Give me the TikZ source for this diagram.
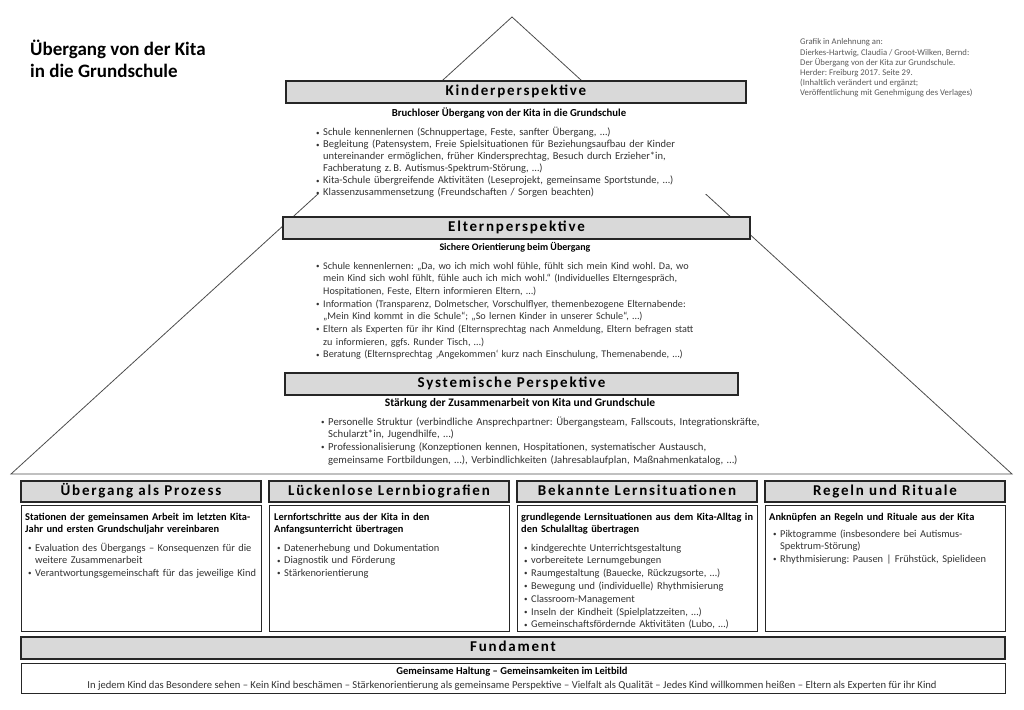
\documentclass[tikz,border=0pt]{standalone}
\usepackage{fontspec}
\setmainfont{Carlito}
\newfontfamily\headfam[LetterSpace=12]{Carlito}
\newcommand{\fsz}[2]{\fontsize{#1}{#2}\selectfont}
\newcommand{\blt}{\par\hangindent=7pt\hangafter=1\noindent\strut\makebox[7pt][l]{\raisebox{0.8pt}{\fontsize{7}{7}\selectfont\textbullet}}}
\frenchspacing

\begin{document}
\begin{tikzpicture}[x=1pt, y=-1pt,
  roof/.style={draw=black!70, line width=0.8pt},
  head/.style={draw=black!85, line width=1.1pt, fill=black!15, inner sep=0pt,
    minimum height=22pt, text height=10.5pt, text depth=3pt,
    font=\headfam\bfseries\fsz{15}{17}},
  box/.style={draw=black!85, line width=0.8pt, fill=white},
  subline/.style={inner sep=0pt, font=\fsz{10}{12}\bfseries},
  bullets/.style={anchor=north west, inner sep=0pt, text width=#1, align=left,
    font=\fsz{10.4}{12.8}, text=black!80},
  colsub/.style={anchor=north west, inner sep=0pt, text width=238pt, align=left,
    font=\fsz{10.4}{12.8}\bfseries}]
  \useasboundingbox (0,0) rectangle (1024,709);

  % Titel und Quelle
  \node[anchor=north west, inner sep=0pt, align=left,
    font=\fsz{19}{22}\bfseries] (title) at (30,39.6)
    {\strut Übergang von der Kita\\in die Grundschule};
  \node[anchor=north west, inner sep=0pt, align=left, text=black!65,
    font=\fsz{8.7}{10.2}] (source) at (800,37.5)
    {\strut Grafik in Anlehnung an:\\
     Dierkes-Hartwig, Claudia / Groot-Wilken, Bernd:\\
     Der Übergang von der Kita zur Grundschule.\\
     Herder: Freiburg 2017. Seite 29.\\
     (Inhaltlich verändert und ergänzt;\\
     Veröffentlichung mit Genehmigung des Verlages)};

  % Dach
  \draw[roof] (512,17) -- (11,474) -- (1012,474) -- cycle;

  % Kinderperspektive
  \fill[white] (286,104) rectangle (746,194);
  \node[head, minimum width=460pt] (kinderhead) at (516,92) {Kinderperspektive};
  \node[subline, font=\fsz{10.7}{12}\bfseries] (kindersub) at (509,113)
    {Bruchloser Übergang von der Kita in die Grundschule};
  \node[bullets=420pt, font=\fsz{10.5}{12}] (kinderlist) at (316,123.6) {%
    \blt Schule kennenlernen (Schnuppertage, Feste, sanfter Übergang, \dots)
    \blt Begleitung (Patensystem, Freie Spielsituationen für Beziehungsaufbau der Kinder\newline
      untereinander ermöglichen, früher Kindersprechtag, Besuch durch Erzieher*in,\newline
      Fachberatung z.\,B. Autismus-Spektrum-Störung, \dots)
    \blt Kita-Schule übergreifende Aktivitäten (Leseprojekt, gemeinsame Sportstunde, \dots)
    \blt Klassenzusammensetzung (Freundschaften / Sorgen beachten)\par};

  % Elternperspektive
  \fill[white] (283,241) rectangle (750,360);
  \node[head, minimum width=467pt] (elternhead) at (516.5,228) {Elternperspektive};
  \node[subline] (elternsub) at (515,247) {Sichere Orientierung beim Übergang};
  \node[bullets=440pt, font=\fsz{10.2}{12.7}] (elternlist) at (316,256.1) {%
    \blt Schule kennenlernen: „Da, wo ich mich wohl fühle, fühlt sich mein Kind wohl. Da, wo\newline
      mein Kind sich wohl fühlt, fühle auch ich mich wohl.“ (Individuelles Elterngespräch,\newline
      Hospitationen, Feste, Eltern informieren Eltern, \dots)
    \blt Information (Transparenz, Dolmetscher, Vorschulflyer, themenbezogene Elternabende:\newline
      „Mein Kind kommt in die Schule“; „So lernen Kinder in unserer Schule“, \dots)
    \blt Eltern als Experten für ihr Kind (Elternsprechtag nach Anmeldung, Eltern befragen statt\newline
      zu informieren, ggfs. Runder Tisch, \dots)
    \blt Beratung (Elternsprechtag ‚Angekommen‘ kurz nach Einschulung, Themenabende, \dots)\par};

  % Systemische Perspektive
  \fill[white] (285,396) rectangle (738,466);
  \node[head, minimum width=453pt] (systemhead) at (511.5,384) {Systemische Perspektive};
  \node[subline, font=\fsz{11.5}{12}\bfseries] (systemsub) at (520,403)
    {Stärkung der Zusammenarbeit von Kita und Grundschule};
  \node[bullets=480pt, font=\fsz{10.7}{12.8}] (systemlist) at (321,412) {%
    \blt Personelle Struktur (verbindliche Ansprechpartner: Übergangsteam, Fallscouts, Integrationskräfte,\newline
      Schularzt*in, Jugendhilfe, \dots)
    \blt Professionalisierung (Konzeptionen kennen, Hospitationen, systematischer Austausch,\newline
      gemeinsame Fortbildungen, \dots), Verbindlichkeiten (Jahresablaufplan, Maßnahmenkatalog, \dots)\par};

  % Saeulen
  \node[head, minimum width=240pt, minimum height=21pt] (prozesshead) at (141,491.5) {Übergang als Prozess};
  \draw[box] (21,505) rectangle (261,631);
  \node[colsub] (prozesssub) at (25,511)
    {\strut Stationen der gemeinsamen Arbeit im letzten Kita-\\Jahr und ersten Grundschuljahr vereinbaren};
  \node[bullets=235pt] (prozesslist) at (28,538) {%
    \blt Evaluation des Übergangs – Konsequenzen für die\newline weitere Zusammenarbeit
    \blt Verantwortungsgemeinschaft für das jeweilige Kind\par};

  \node[head, minimum width=240pt, minimum height=21pt] (biohead) at (389,491.5) {Lückenlose Lernbiografien};
  \draw[box] (269,505) rectangle (509,631);
  \node[colsub] (biosub) at (274,511)
    {\strut Lernfortschritte aus der Kita in den\\Anfangsunterricht übertragen};
  \node[bullets=235pt] (biolist) at (277,538) {%
    \blt Datenerhebung und Dokumentation
    \blt Diagnostik und Förderung
    \blt Stärkenorientierung\par};

  \node[head, minimum width=240pt, minimum height=21pt] (lernhead) at (637,491.5) {Bekannte Lernsituationen};
  \draw[box] (517,505) rectangle (757,631);
  \node[colsub] (lernsub) at (521,511)
    {\strut grundlegende Lernsituationen aus dem Kita-Alltag in\\den Schulalltag übertragen};
  \node[bullets=235pt] (lernlist) at (524,538) {%
    \blt kindgerechte Unterrichtsgestaltung
    \blt vorbereitete Lernumgebungen
    \blt Raumgestaltung (Bauecke, Rückzugsorte, \dots)
    \blt Bewegung und (individuelle) Rhythmisierung
    \blt Classroom-Management
    \blt Inseln der Kindheit (Spielplatzzeiten, \dots)
    \blt Gemeinschaftsfördernde Aktivitäten (Lubo, \dots)\par};

  \node[head, minimum width=240pt, minimum height=21pt] (regelhead) at (885,491.5) {Regeln und Rituale};
  \draw[box] (765,505) rectangle (1005,631);
  \node[colsub] (regelsub) at (769,511)
    {\strut Anknüpfen an Regeln und Rituale aus der Kita};
  \node[bullets=235pt] (regellist) at (773,524) {%
    \blt Piktogramme (insbesondere bei Autismus-\newline Spektrum-Störung)
    \blt Rhythmisierung: Pausen | Frühstück, Spielideen\par};

  % Fundament
  \node[head, minimum width=984pt] (fundhead) at (513,648) {Fundament};
  \draw[box] (21,663) rectangle (1005,693);
  \node[subline, font=\fsz{10.5}{12}\bfseries] (fundsub) at (512,672)
    {Gemeinsame Haltung – Gemeinsamkeiten im Leitbild};
  \node[inner sep=0pt, font=\fsz{10.6}{12}, text=black!80] (fundtext) at (512,686)
    {In jedem Kind das Besondere sehen – Kein Kind beschämen – Stärkenorientierung als gemeinsame Perspektive – Vielfalt als Qualität – Jedes Kind willkommen heißen – Eltern als Experten für ihr Kind};
\end{tikzpicture}
\end{document}
